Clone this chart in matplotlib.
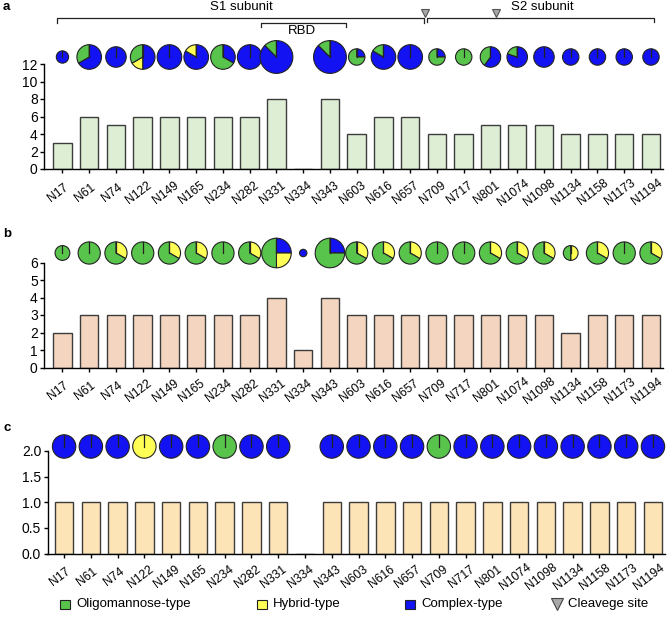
import numpy as np
import matplotlib
matplotlib.use('Agg')
import matplotlib.pyplot as plt
from matplotlib.patches import Wedge, Circle, Rectangle
from matplotlib.transforms import ScaledTranslation

plt.rcParams['font.family'] = ['Liberation Sans', 'DejaVu Sans']

sites = ['N17', 'N61', 'N74', 'N122', 'N149', 'N165', 'N234', 'N282', 'N331', 'N334',
         'N343', 'N603', 'N616', 'N657', 'N709', 'N717', 'N801', 'N1074', 'N1098',
         'N1134', 'N1158', 'N1173', 'N1194']

# panel a
a_total = [3, 6, 5, 6, 6, 6, 6, 6, 8, 0, 8, 4, 6, 6, 4, 4, 5, 5, 5, 4, 4, 4, 4]
a_complex = [3, 4, 5, 3, 6, 5, 2, 6, 7, 0, 7, 1, 5, 6, 1, 0, 3, 4, 5, 4, 4, 4, 4]
a_hybrid = [0, 0, 0, 1, 0, 1, 0, 0, 0, 0, 0, 0, 0, 0, 0, 0, 0, 0, 0, 0, 0, 0, 0]
a_oligo = [0, 2, 0, 2, 0, 0, 4, 0, 1, 0, 1, 3, 1, 0, 3, 4, 2, 1, 0, 0, 0, 0, 0]

# panel b
b_total = [2, 3, 3, 3, 3, 3, 3, 3, 4, 1, 4, 3, 3, 3, 3, 3, 3, 3, 3, 2, 3, 3, 3]
b_complex = [0, 0, 0, 0, 0, 0, 0, 0, 1, 1, 1, 0, 0, 0, 0, 0, 0, 0, 0, 0, 0, 0, 0]
b_hybrid = [0, 0, 1, 0, 1, 1, 0, 1, 1, 0, 0, 1, 1, 1, 0, 0, 1, 1, 1, 1, 1, 0, 1]
b_oligo = [2, 3, 2, 3, 2, 2, 3, 2, 2, 0, 3, 2, 2, 2, 3, 3, 2, 2, 2, 1, 2, 3, 2]

# panel c
c_total = [1, 1, 1, 1, 1, 1, 1, 1, 1, 0, 1, 1, 1, 1, 1, 1, 1, 1, 1, 1, 1, 1, 1]
c_complex = [1, 1, 1, 0, 1, 1, 0, 1, 1, 0, 1, 1, 1, 1, 0, 1, 1, 1, 1, 1, 1, 1, 1]
c_hybrid = [0, 0, 0, 1, 0, 0, 0, 0, 0, 0, 0, 0, 0, 0, 0, 0, 0, 0, 0, 0, 0, 0, 0]
c_oligo = [0, 0, 0, 0, 0, 0, 1, 0, 0, 0, 0, 0, 0, 0, 1, 0, 0, 0, 0, 0, 0, 0, 0]

GREEN = '#58C44C'
YELLOW = '#FFFF55'
BLUE = '#1212F2'
EDGE = '#222222'

W, H = 672, 621
fig = plt.figure(figsize=(W / 100, H / 100), dpi=100)


def px_axes(left, top, right, bottom):
    return fig.add_axes([left / W, 1 - bottom / H, (right - left) / W, (bottom - top) / H])


def Y(t):
    return H - t


panels = [
    dict(total=a_total, comp=(a_complex, a_hybrid, a_oligo), box=(44, 64, 663, 169),
         xlim=(-0.69, 22.45), ytop=12, yticks=[0, 2, 4, 6, 8, 10, 12], fmt='{:d}',
         color='#DDEED5', k=2.05, dy=7, letter='a', ly=7),
    dict(total=b_total, comp=(b_complex, b_hybrid, b_oligo), box=(44, 262.5, 663, 367.5),
         xlim=(-0.69, 22.45), ytop=6, yticks=[0, 1, 2, 3, 4, 5, 6], fmt='{:d}',
         color='#F3D5C0', k=3.7, dy=9.5, letter='b', ly=234),
    dict(total=c_total, comp=(c_complex, c_hybrid, c_oligo), box=(47.5, 451, 665, 553.5),
         xlim=(-0.62, 22.45), ytop=2.0, yticks=[0, 0.5, 1.0, 1.5, 2.0], fmt='{:.1f}',
         color='#FDE4B7', k=11.7, dy=4.5, letter='c', ly=428),
]

ov = fig.add_axes([0, 0, 1, 1], zorder=5)
ov.set_xlim(0, W)
ov.set_ylim(0, H)
ov.axis('off')

x = np.arange(len(sites))
for p in panels:
    ax = px_axes(*p['box'])
    ax.bar(x, p['total'], width=0.69, color=p['color'], edgecolor='#3c3c3c', linewidth=1)
    ax.set_xlim(*p['xlim'])
    ax.set_ylim(0, p['ytop'])
    for s in ['top', 'right']:
        ax.spines[s].set_visible(False)
    for s in ['left', 'bottom']:
        ax.spines[s].set_linewidth(1)
    ax.set_yticks(p['yticks'])
    ax.set_yticklabels([p['fmt'].format(v) for v in p['yticks']], fontsize=10)
    ax.set_xticks(x)
    ax.set_xticklabels([])
    ax.tick_params(direction='out', length=3, width=1, pad=1.5)
    off = ScaledTranslation(-0.04, -0.235, fig.dpi_scale_trans)
    for i, s in enumerate(sites):
        ax.text(i, 0, s, transform=ax.get_xaxis_transform() + off, rotation=37,
                ha='center', va='center', fontsize=8.7)

    # pies above the axis
    for i in range(len(sites)):
        n = p['total'][i]
        if n == 0:
            continue
        cx, cy = ax.transData.transform((i, p['ytop']))
        cy += p['dy']
        r = p['k'] * n
        start = 90.0
        for cnt, col in zip([c[i] for c in p['comp']], [BLUE, YELLOW, GREEN]):
            if cnt == 0:
                continue
            span = 360.0 * cnt / n
            if span >= 359.99:
                ov.add_patch(Circle((cx, cy), r, facecolor=col, edgecolor=EDGE, linewidth=0.8))
            else:
                ov.add_patch(Wedge((cx, cy), r, start - span, start, facecolor=col,
                                   edgecolor=EDGE, linewidth=0.8))
            start -= span
        if r > 5:
            ov.plot([cx, cx], [cy, cy + r], color=EDGE, linewidth=0.9)

    ov.text(3, Y(p['ly']), p['letter'], fontsize=9.5, fontweight='bold', ha='left', va='center')

# domain brackets
ov.plot([57, 57, 424, 424], [Y(23), Y(17.5), Y(17.5), Y(23)], color='#222', linewidth=0.9)
ov.plot([261, 261, 345.5, 345.5], [Y(26.5), Y(23), Y(23), Y(26.5)], color='#222', linewidth=0.9)
ov.plot([427, 427, 654, 654], [Y(22), Y(17.5), Y(17.5), Y(22)], color='#222', linewidth=0.9)
ov.text(241.7, Y(7), 'S1 subunit', fontsize=9.5, ha='center', va='center')
ov.text(542.5, Y(7), 'S2 subunit', fontsize=9.5, ha='center', va='center')
ov.text(301.7, Y(31.5), 'RBD', fontsize=9.5, ha='center', va='center')
ov.plot([425, 495.7], [Y(12.5), Y(12.5)], linestyle='none', marker='v', markersize=5.5,
        markerfacecolor='#A8A8A8', markeredgecolor='#555555', markeredgewidth=0.8)

# legend
leg_items = [(60, GREEN, 'Oligomannose-type'), (257, YELLOW, 'Hybrid-type'),
             (405, BLUE, 'Complex-type')]
for lx, col, lab in leg_items:
    ov.add_patch(Rectangle((lx, Y(609)), 9.5, 9.5, facecolor=col, edgecolor=EDGE, linewidth=0.8))
    ov.text(lx + 16, Y(604), lab, fontsize=9.5, ha='left', va='center')
ov.plot([556.5], [Y(604)], marker='v', markersize=9, markerfacecolor='#A8A8A8',
        markeredgecolor='#444444', markeredgewidth=0.8)
ov.text(568, Y(604), 'Cleavege site', fontsize=9.5, ha='left', va='center')

fig.savefig('out.png', dpi=100)
